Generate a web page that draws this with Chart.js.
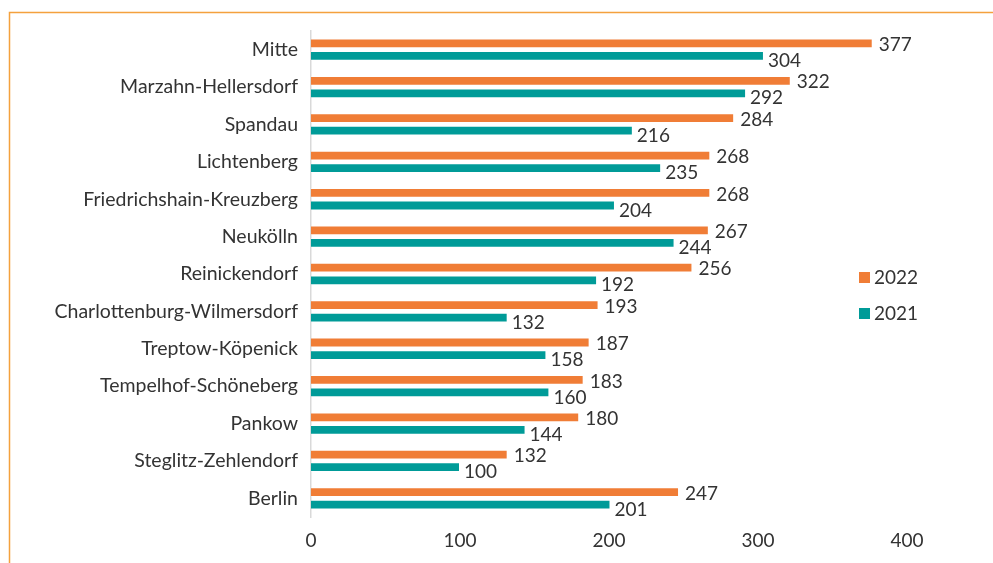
<!DOCTYPE html>
<html><head><meta charset="utf-8">
<script src="https://cdn.jsdelivr.net/npm/chart.js@4/dist/chart.umd.min.js"></script>
<style>html,body{margin:0;padding:0;background:#fff;}#wrap{width:993px;height:563px;position:relative;}</style>
</head><body><div id="wrap"><canvas id="c" width="993" height="563"></canvas></div>
<script>
const categories = ["Mitte","Marzahn-Hellersdorf","Spandau","Lichtenberg","Friedrichshain-Kreuzberg","Neukölln","Reinickendorf","Charlottenburg-Wilmersdorf","Treptow-Köpenick","Tempelhof-Schöneberg","Pankow","Steglitz-Zehlendorf","Berlin"];
const values2022 = [377,322,284,268,268,267,256,193,187,183,180,132,247];
const values2021 = [304,292,216,235,204,244,192,132,158,160,144,100,201];
const seriesNames = ["2022","2021"];
const xTicks = [0,100,200,300,400];

const ORANGE = '#F07D36', TEAL = '#009B98', TXT = '#333333';
const FONT = 'Lato, "Open Sans", sans-serif';

const framePlugin = {
  id:'frame',
  beforeDraw(chart){
    const ctx = chart.ctx;
    ctx.save();
    ctx.strokeStyle = '#F4A13D'; ctx.lineWidth = 1.5;
    ctx.beginPath();
    ctx.moveTo(9.5, 563); ctx.lineTo(9.5, 12.5); ctx.lineTo(993, 12.5);
    ctx.stroke();
    ctx.restore();
  }
};
const labelPlugin = {
  id:'vlabels',
  afterDatasetsDraw(chart){
    const ctx = chart.ctx;
    ctx.save();
    ctx.font = '19px ' + FONT;
    ctx.fillStyle = TXT;
    ctx.textAlign = 'left';
    ctx.textBaseline = 'middle';
    chart.data.datasets.forEach((ds, di) => {
      const meta = chart.getDatasetMeta(di);
      meta.data.forEach((el, i) => {
        const dx = di === 0 ? 6 : 4;
        const dy = di === 0 ? 1.5 : 5;
        ctx.fillText(String(ds.data[i]), el.x + dx, el.y + dy);
      });
    });
    ctx.restore();
  }
};
const legendPlugin = {
  id:'customLegend',
  afterDraw(chart){
    const ctx = chart.ctx;
    ctx.save();
    ctx.font = '19px ' + FONT;
    ctx.textAlign = 'left';
    ctx.textBaseline = 'middle';
    const ys = [277.5, 313.5];
    chart.data.datasets.forEach((ds, di) => {
      ctx.fillStyle = ds.backgroundColor;
      ctx.fillRect(859, ys[di]-5.5, 11, 11);
      ctx.fillStyle = TXT;
      ctx.fillText(ds.label, 874, ys[di]);
    });
    ctx.restore();
  }
};

new Chart(document.getElementById('c'), {
  type:'bar',
  data:{
    labels: categories,
    datasets:[
      {label: seriesNames[0], data: values2022, backgroundColor: ORANGE, borderColor:'rgba(255,255,255,0.35)', borderWidth:1, categoryPercentage:0.67, barPercentage:0.78},
      {label: seriesNames[1], data: values2021, backgroundColor: TEAL, borderColor:'rgba(255,255,255,0.35)', borderWidth:1, categoryPercentage:0.67, barPercentage:0.78}
    ]
  },
  options:{
    indexAxis:'y',
    responsive:false,
    animation:false,
    layout:{padding:{top:31,right:86,bottom:0,left:0}},
    plugins:{legend:{display:false}, tooltip:{enabled:false}},
    scales:{
      x:{
        min:0, max:400,
        afterBuildTicks(scale){ scale.ticks = xTicks.map(v=>({value:v})); },
        afterFit(scale){ scale.height = 46; },
        grid:{display:false, drawTicks:false},
        border:{display:false},
        ticks:{color:TXT, font:{family:FONT, size:19}, padding:12}
      },
      y:{
        afterFit(scale){ scale.width = 311; },
        grid:{display:false, drawTicks:false},
        border:{display:true, color:'#d9d9d9', width:1.5},
        ticks:{color:TXT, font:{family:FONT, size:19.5}, padding:13}
      }
    }
  },
  plugins:[framePlugin, labelPlugin, legendPlugin]
});
</script></body></html>
